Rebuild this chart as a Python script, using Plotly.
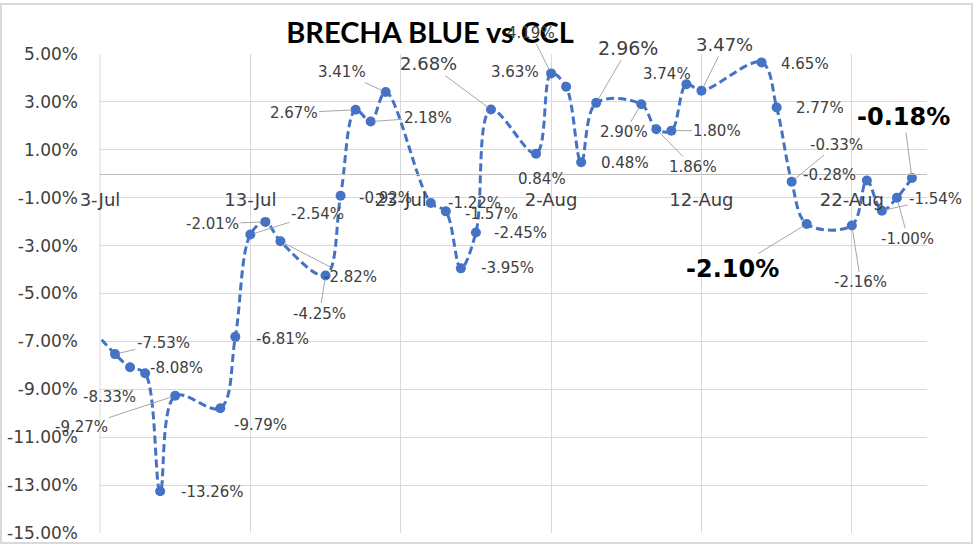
import plotly.graph_objects as go

# ---------------- data ----------------
dates = ["2022-07-01", "2022-07-04", "2022-07-05", "2022-07-06", "2022-07-07", "2022-07-08",
         "2022-07-11", "2022-07-12", "2022-07-13", "2022-07-14", "2022-07-15",
         "2022-07-18", "2022-07-19", "2022-07-20", "2022-07-21", "2022-07-22",
         "2022-07-25", "2022-07-26", "2022-07-27", "2022-07-28", "2022-07-29",
         "2022-08-01", "2022-08-02", "2022-08-03", "2022-08-04", "2022-08-05",
         "2022-08-08", "2022-08-09", "2022-08-10", "2022-08-11", "2022-08-12",
         "2022-08-16", "2022-08-17", "2022-08-18", "2022-08-19",
         "2022-08-22", "2022-08-23", "2022-08-24", "2022-08-25", "2022-08-26"]
brecha = [-5.4, -7.53, -8.08, -8.33, -13.26, -9.27,
          -9.79, -6.81, -2.54, -2.01, -2.82,
          -4.25, -0.92, 2.67, 2.18, 3.41,
          -1.22, -1.57, -3.95, -2.45, 2.68,
          0.84, 4.19, 3.63, 0.48, 2.96,
          2.90, 1.86, 1.80, 3.74, 3.47,
          4.65, 2.77, -0.33, -2.10,
          -2.16, -0.28, -1.54, -1.00, -0.18]

x_tick_dates = ["2022-07-03", "2022-07-13", "2022-07-23", "2022-08-02", "2022-08-12", "2022-08-22"]
x_tick_labels = ["3-Jul", "13-Jul", "23-Jul", "2-Aug", "12-Aug", "22-Aug"]
y_tick_values = [-15, -13, -11, -9, -7, -5, -3, -1, 1, 3, 5]
y_tick_labels = ["-15.00%", "-13.00%", "-11.00%", "-9.00%", "-7.00%", "-5.00%",
                 "-3.00%", "-1.00%", "1.00%", "3.00%", "5.00%"]
x_range = ["2022-07-03", "2022-08-27"]
y_range = [-15, 5]
title_text = "BRECHA BLUE vs CCL"

# ---------------- label styling (pixel offsets, leader, size, bold) ----------------
label_style = [
    None,
    (48, -11, True, 15, False), (46, 1, False, 15, False), (-36, 24, False, 15, False),
    (52, 1, False, 15, False), (-94, 31, True, 15, False),
    (40, 17, False, 15, False), (47, 2, False, 15, False), (67, -21, True, 15, False),
    (-53, 2, True, 15, False), (70, 36, True, 15, False),
    (-6, 38, True, 15, False), (45, 2, False, 15, False), (-62, 3, True, 15, False),
    (57, -4, True, 15, False), (-44, -20, True, 15, False),
    (44, 0, False, 15, False), (46, 3, False, 15, False), (47, 0, False, 15, False),
    (45, 1, False, 15, False), (-62, -46, True, 18, False),
    (6, 25, False, 15, False), (-20, -40, True, 15, False), (-51, -15, False, 15, False),
    (44, 1, False, 15, False), (32, -55, True, 19, False),
    (-17, 28, True, 15, False), (37, 38, True, 15, False), (46, 0, True, 15, False),
    (-19, -10, False, 15, False), (23, -46, True, 18, False),
    (43, 2, False, 15, False), (43, 1, False, 15, False), (45, -37, True, 15, False),
    (-74, 45, True, 24, True),
    (9, 57, True, 15, False), (-37, -5, False, 15, False), (54, -12, True, 15, False),
    (11, 41, True, 15, False), (-8, -61, True, 24, True),
]

LINE_COLOR = "#4472C4"
GRID = "#D9D9D9"
TEXT = "#404040"
FONT = "DejaVu Sans"

W, H = 980, 552
ML, MR, MT, MB = 100, 53, 54, 19

fig = go.Figure()
fig.add_trace(go.Scatter(
    x=dates, y=brecha, mode="lines+markers",
    line=dict(color=LINE_COLOR, width=3, dash="8px,4px", shape="spline", smoothing=1.0),
    marker=dict(color=LINE_COLOR, size=10),
    cliponaxis=True, hoverinfo="x+y", showlegend=False,
))

annotations = []
for d, v, st in zip(dates, brecha, label_style):
    if st is None:
        continue
    dx, dy, leader, size, bold = st
    txt = f"{v:.2f}%"
    if bold:
        txt = f"<b>{txt}</b>"
    annotations.append(dict(
        x=d, y=v, xref="x", yref="y", text=txt, showarrow=True,
        ax=dx, ay=dy, arrowhead=0, arrowwidth=1, standoff=4,
        arrowcolor="#A6A6A6" if leader else "rgba(0,0,0,0)",
        font=dict(family=FONT, size=size, color="#000000" if bold else TEXT),
    ))

pw, ph = W - ML - MR, H - MT - MB
def px(xp):
    return (xp - ML) / pw
def py(yp):
    return (H - MB - yp) / ph

fig.update_layout(
    width=W, height=H,
    margin=dict(l=ML, r=MR, t=MT, b=MB, pad=0, autoexpand=False),
    paper_bgcolor="white", plot_bgcolor="white",
    title=dict(text=f"<b>{title_text}</b>", x=430 / W, xanchor="center",
               y=1 - 33 / H, yanchor="middle", xref="container", yref="container",
               font=dict(family="Lato", size=29, color="#000000")),
    xaxis=dict(
        type="date", range=x_range, tickmode="array", tickvals=x_tick_dates,
        ticktext=x_tick_labels, showgrid=True, gridcolor=GRID, gridwidth=1,
        anchor="free", position=(0 - y_range[0]) / (y_range[1] - y_range[0]),
        showline=True, linecolor="#BFBFBF", linewidth=1, ticks="",
        ticklabelstandoff=10, zeroline=False, automargin=False,
        tickfont=dict(family=FONT, size=18, color=TEXT),
    ),
    yaxis=dict(
        range=y_range, tickmode="array", tickvals=y_tick_values, ticktext=y_tick_labels,
        showgrid=True, gridcolor=GRID, gridwidth=1, zeroline=False,
        showline=False, ticks="", ticklabelstandoff=21, automargin=False,
        tickfont=dict(family=FONT, size=17, color=TEXT),
    ),
    annotations=annotations,
    shapes=[dict(type="rect", xref="paper", yref="paper",
                 x0=px(1), x1=px(972), y0=py(543), y1=py(4),
                 line=dict(color=GRID, width=2), fillcolor="rgba(0,0,0,0)", layer="below"),
            dict(type="line", xref="paper", yref="paper",
                 x0=0, x1=0, y0=0, y1=1, line=dict(color=GRID, width=1), layer="below")],
)

fig.write_html("out.html")
